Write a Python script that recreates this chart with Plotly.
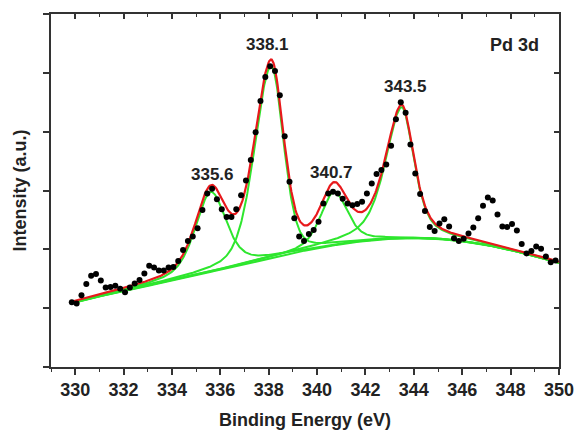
import numpy as np
import plotly.graph_objects as go

# ---- measured data (binding energy in eV, intensity in a.u.) ----
energy = [329.86, 330.06, 330.26, 330.46, 330.66, 330.86, 331.06, 331.26, 331.46, 331.66,
          331.86, 332.06, 332.26, 332.46, 332.66, 332.86, 333.06, 333.26, 333.46, 333.66,
          333.86, 334.06, 334.26, 334.46, 334.66, 334.86, 335.06, 335.26, 335.46, 335.66,
          335.86, 336.06, 336.26, 336.46, 336.66, 336.86, 337.06, 337.26, 337.46, 337.66,
          337.86, 338.06, 338.26, 338.46, 338.66, 338.86, 339.06, 339.26, 339.46, 339.66,
          339.86, 340.06, 340.26, 340.46, 340.66, 340.86, 341.06, 341.26, 341.46, 341.66,
          341.86, 342.06, 342.26, 342.46, 342.66, 342.86, 343.06, 343.26, 343.46, 343.66,
          343.86, 344.06, 344.26, 344.46, 344.66, 344.86, 345.06, 345.26, 345.46, 345.66,
          345.86, 346.06, 346.26, 346.46, 346.66, 346.86, 347.06, 347.26, 347.46, 347.66,
          347.86, 348.06, 348.26, 348.46, 348.66, 348.86, 349.06, 349.26, 349.46, 349.66,
          349.86]
intensity = [1.10, 1.08, 1.22, 1.41, 1.55, 1.58, 1.47, 1.35, 1.36, 1.38,
             1.33, 1.27, 1.35, 1.42, 1.48, 1.59, 1.72, 1.69, 1.64, 1.64,
             1.69, 1.70, 1.80, 1.99, 2.14, 2.22, 2.36, 2.67, 2.95, 3.03,
             2.85, 2.68, 2.55, 2.55, 2.68, 2.92, 3.17, 3.52, 3.99, 4.52,
             4.93, 5.11, 5.03, 4.62, 3.92, 3.15, 2.53, 2.22, 2.14, 2.26,
             2.33, 2.47, 2.78, 2.95, 2.98, 2.95, 2.86, 2.78, 2.75, 2.77,
             2.81, 2.95, 3.12, 3.28, 3.35, 3.44, 3.76, 4.21, 4.50, 4.32,
             3.78, 3.29, 2.94, 2.65, 2.38, 2.31, 2.44, 2.51, 2.39, 2.19,
             2.14, 2.18, 2.27, 2.37, 2.53, 2.74, 2.88, 2.83, 2.59, 2.39,
             2.38, 2.43, 2.32, 2.09, 1.93, 1.97, 2.05, 2.01, 1.88, 1.78,
             1.81]

# ---- background read from the green baseline ----
bg_energy = [329.8, 331, 332, 333, 334, 335, 336, 337, 338, 339, 340,
             341, 342, 343, 344, 345, 346, 347, 348, 349, 350]
bg_level = [1.08, 1.19, 1.30, 1.39, 1.47, 1.55, 1.64, 1.74, 1.85, 1.95, 2.03,
            2.09, 2.14, 2.17, 2.18, 2.17, 2.14, 2.08, 1.99, 1.88, 1.77]

# ---- fitted components (read from the green peaks) ----
peak_labels = ["335.6", "338.1", "340.7", "343.5"]
peak_center = [335.6, 338.1, 340.7, 343.5]
peak_height = [1.36, 3.26, 0.91, 2.23]
peak_hwhm_low = [0.75, 0.80, 0.65, 0.80]
peak_hwhm_high = [0.75, 0.60, 0.65, 0.60]
peak_lorentz = [0.5, 0.3, 0.5, 0.6]

x_tick_vals = [330, 332, 334, 336, 338, 340, 342, 344, 346, 348, 350]

# ---- build fit curves ----
xf = np.linspace(329.8, 350.0, 600)
bg_poly = np.polynomial.Polynomial.fit(bg_energy, bg_level, 5)
bgf = bg_poly(xf)


def pseudo_voigt(x, c, h, wl, wr, eta):
    w = np.where(x < c, wl, wr)
    d = (x - c) / w
    return h * (eta / (1 + d ** 2) + (1 - eta) * np.exp(-np.log(2) * d ** 2))


comps = [pseudo_voigt(xf, c, h, wl, wr, e) for c, h, wl, wr, e in
         zip(peak_center, peak_height, peak_hwhm_low, peak_hwhm_high, peak_lorentz)]
envelope = bgf + np.sum(comps, axis=0)

GREEN = "#2ee62e"
RED = "#e8191c"

fig = go.Figure()
fig.add_trace(go.Scatter(x=xf, y=bgf, mode="lines", line=dict(color=GREEN, width=2),
                         showlegend=False, hoverinfo="skip"))
for comp in comps:
    fig.add_trace(go.Scatter(x=xf, y=bgf + comp, mode="lines",
                             line=dict(color=GREEN, width=2),
                             showlegend=False, hoverinfo="skip"))
fig.add_trace(go.Scatter(x=xf, y=envelope, mode="lines", line=dict(color=RED, width=2.2),
                         showlegend=False, hoverinfo="skip"))
fig.add_trace(go.Scatter(x=energy, y=intensity, mode="markers",
                         marker=dict(color="black", size=6), showlegend=False))
# invisible trace for mirrored axes
fig.add_trace(go.Scatter(x=[340], y=[3], xaxis="x2", yaxis="y2", mode="markers",
                         marker=dict(opacity=0), showlegend=False, hoverinfo="skip"))

FONT = "Liberation Sans, Arial, sans-serif"
label_pos = {"335.6": (335.69, 3.27), "338.1": (337.97, 5.48),
             "340.7": (340.58, 3.31), "343.5": (343.64, 4.76)}
for lab in peak_labels:
    lx, ly = label_pos[lab]
    fig.add_annotation(x=lx, y=ly, text="<b>%s</b>" % lab, showarrow=False,
                       font=dict(family=FONT, size=17, color="#222"))
fig.add_annotation(x=348.15, y=5.48, text="<b>Pd 3d</b>", showarrow=False,
                   font=dict(family=FONT, size=18, color="#222"))

AX = "#333"
XR = [329, 350.002]
fig.update_layout(
    width=574, height=430,
    margin=dict(l=51, r=15, t=14, b=63),
    plot_bgcolor="white", paper_bgcolor="white",
    font=dict(family=FONT, size=18, color="#222"),
    xaxis=dict(range=XR, tickmode="array", tickvals=x_tick_vals, automargin=False,
               ticklabeloverflow="allow",
               ticks="outside", ticklen=6, tickwidth=1.5, tickcolor=AX,
               showline=True, linewidth=1.5, linecolor=AX, mirror=False,
               showgrid=False, zeroline=False,
               tickfont=dict(family=FONT, size=18, color="#222", weight="bold"),
               minor=dict(tickmode="linear", tick0=329, dtick=1, ticks="outside",
                          ticklen=3, tickwidth=1.2, tickcolor=AX),
               title=dict(text="<b>Binding Energy (eV)</b>", standoff=14,
                          font=dict(family=FONT, size=18, color="#222"))),
    xaxis2=dict(range=XR, overlaying="x", side="top", matches="x", automargin=False,
                tickmode="array", tickvals=x_tick_vals, ticks="inside", ticklen=5,
                tickwidth=1.5, tickcolor=AX, showticklabels=False,
                showline=True, linewidth=1.5, linecolor=AX, showgrid=False, zeroline=False,
                minor=dict(tickmode="linear", tick0=329, dtick=1, ticks="inside",
                           ticklen=3, tickwidth=1.2, tickcolor=AX)),
    yaxis=dict(range=[0, 6], tickmode="linear", tick0=0, dtick=1, automargin=False,
               ticks="outside", ticklen=6, tickwidth=1.5, tickcolor=AX,
               showticklabels=False, showline=True, linewidth=1.5, linecolor=AX,
               showgrid=False, zeroline=False,
               title=dict(text="<b>Intensity (a.u.)</b>", standoff=12,
                          font=dict(family=FONT, size=18, color="#222"))),
    yaxis2=dict(range=[0, 6], overlaying="y", side="right", matches="y", automargin=False,
                tickmode="linear", tick0=0, dtick=1, ticks="inside", ticklen=5,
                tickwidth=1.5, tickcolor=AX, showticklabels=False,
                showline=True, linewidth=1.5, linecolor=AX, showgrid=False, zeroline=False),
)

fig.write_html("out.html")
